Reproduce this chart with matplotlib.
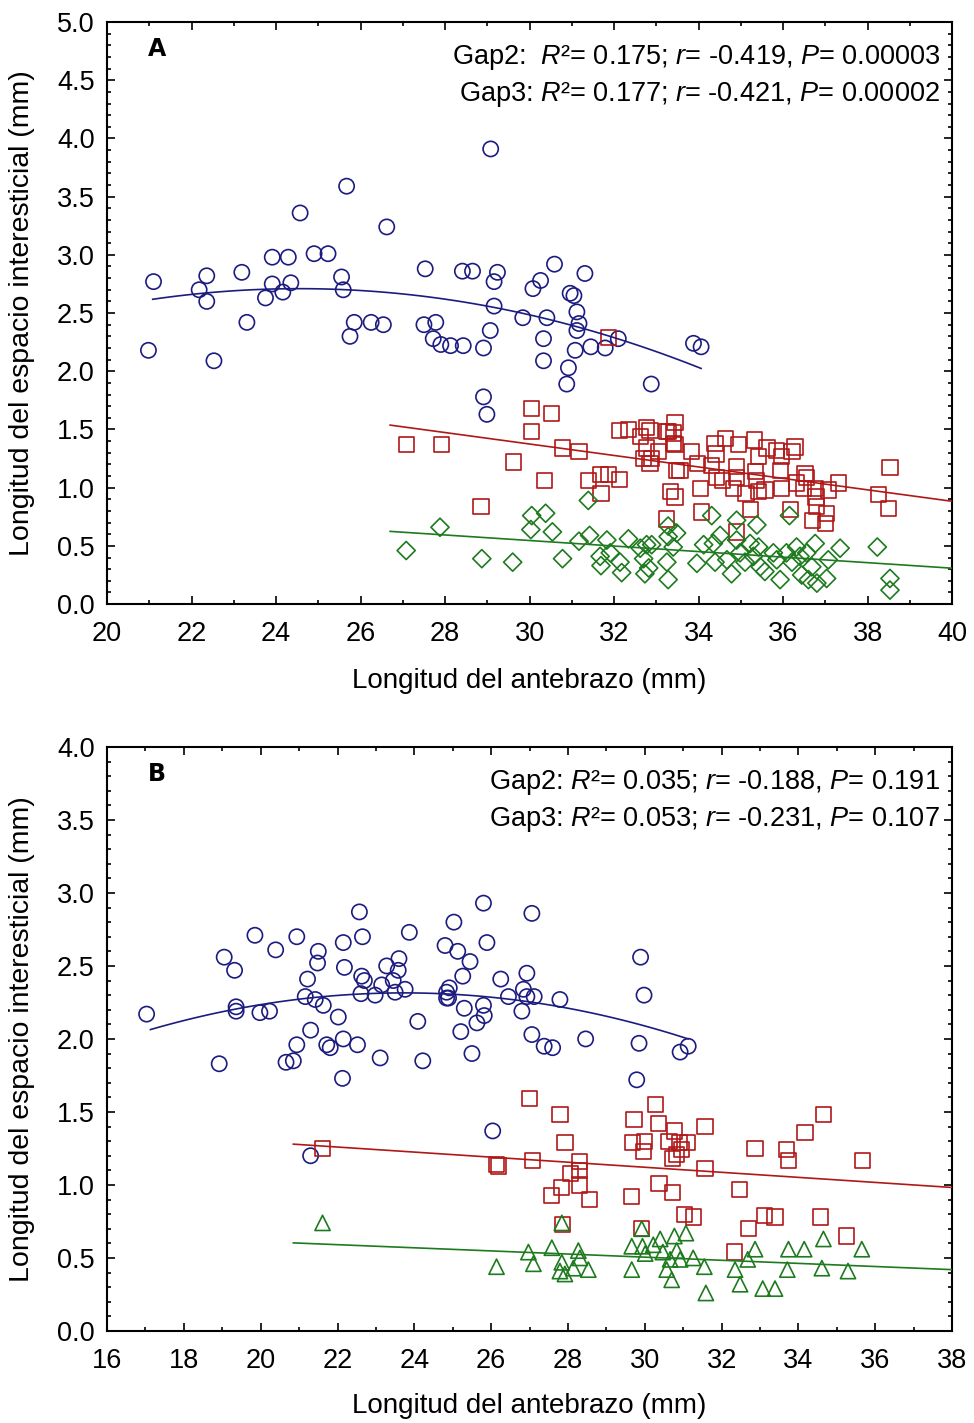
# -*- coding: utf-8 -*-
"""
Longitud del espacio interesticial vs. longitud del antebrazo.
Panel A / Panel B, Gap1 (circulos), Gap2 (cuadrados), Gap3 (rombos / triangulos).
"""
import numpy as np
import matplotlib
matplotlib.use('Agg')
import matplotlib.pyplot as plt
from matplotlib.ticker import MultipleLocator, FormatStrFormatter

FONT = ['Liberation Sans', 'DejaVu Sans']
plt.rcParams['font.family'] = FONT
plt.rcParams['mathtext.fontset'] = 'custom'
plt.rcParams['mathtext.rm'] = 'Liberation Sans'
plt.rcParams['mathtext.it'] = 'Liberation Sans:italic'

# ---------------- panel A ----------------
A_GAP1_X = [21.10, 20.98, 22.18, 22.36, 22.36, 22.53, 23.19, 23.31, 23.91, 24.29,
            23.91, 23.75, 24.16, 24.35, 24.57, 24.90, 25.23, 25.67, 25.55, 25.59,
            25.85, 25.75, 26.25, 26.54, 26.62, 27.53, 27.50, 27.78, 27.72, 27.90,
            28.13, 28.43, 28.41, 28.65, 28.91, 29.08, 29.24, 29.16, 29.16, 29.07,
            28.91, 28.99, 29.84, 30.08, 30.26, 30.41, 30.33, 30.33, 30.59, 31.31,
            30.96, 31.05, 31.12, 31.17, 31.12, 31.08, 31.45, 31.79, 32.10, 30.92,
            30.88, 32.88, 33.88, 34.06]
A_GAP1_Y = [2.77, 2.18, 2.70, 2.82, 2.60, 2.09, 2.85, 2.42, 2.98, 2.98,
            2.75, 2.63, 2.68, 2.76, 3.36, 3.01, 3.01, 3.59, 2.81, 2.70,
            2.42, 2.30, 2.42, 2.40, 3.24, 2.88, 2.40, 2.42, 2.28, 2.23,
            2.22, 2.22, 2.86, 2.86, 2.20, 3.91, 2.85, 2.77, 2.56, 2.35,
            1.78, 1.63, 2.46, 2.71, 2.78, 2.46, 2.28, 2.09, 2.92, 2.84,
            2.67, 2.65, 2.51, 2.41, 2.35, 2.18, 2.21, 2.20, 2.28, 2.03,
            1.89, 1.89, 2.24, 2.21]

A_GAP2_X = [27.09, 27.91, 30.04, 30.52, 30.04, 29.62, 30.36, 28.85, 30.78, 31.17,
            31.39, 31.67, 31.87, 32.12, 31.69, 32.13, 32.34, 32.62, 32.77, 32.85,
            32.77, 32.70, 32.89, 32.85, 33.05, 33.25, 33.44, 33.40, 33.44, 33.48,
            33.33, 33.44, 33.25, 33.29, 33.41, 33.56, 33.84, 33.98, 34.04, 34.07,
            34.39, 34.63, 34.41, 34.31, 34.43, 34.57, 34.82, 34.94, 34.90, 34.90,
            35.12, 35.22, 35.32, 35.42, 35.34, 35.38, 35.42, 35.57, 35.62, 35.85,
            35.97, 35.93, 35.97, 36.17, 36.21, 36.28, 36.32, 36.52, 36.56, 36.48,
            36.76, 36.78, 36.80, 36.70, 37.03, 37.01, 37.07, 37.31, 38.25, 38.49,
            38.53, 34.90, 31.87]
A_GAP2_Y = [1.37, 1.37, 1.68, 1.64, 1.48, 1.22, 1.06, 0.84, 1.34, 1.31,
            1.06, 1.11, 1.11, 1.07, 0.95, 1.49, 1.50, 1.44, 1.52, 1.49,
            1.34, 1.25, 1.25, 1.21, 1.31, 1.48, 1.56, 1.47, 1.37, 1.15,
            0.97, 0.92, 0.73, 1.48, 1.38, 1.15, 1.31, 1.21, 0.99, 0.79,
            1.38, 1.42, 1.29, 1.19, 1.09, 1.06, 0.99, 1.37, 1.18, 1.09,
            0.95, 0.81, 1.41, 1.27, 1.14, 1.06, 0.97, 0.98, 1.34, 1.32,
            1.27, 1.15, 0.99, 0.81, 1.31, 1.35, 1.04, 1.12, 1.09, 0.99,
            0.99, 0.92, 0.84, 0.72, 0.78, 0.69, 0.98, 1.04, 0.94, 0.82,
            1.17, 0.62, 2.29]

A_GAP3_X = [27.08, 27.88, 28.87, 29.60, 30.05, 30.38, 30.03, 30.54, 30.78, 31.39,
            31.17, 31.42, 31.83, 31.91, 31.67, 31.69, 32.14, 32.18, 32.34, 32.62,
            32.77, 32.89, 32.70, 32.82, 32.73, 33.28, 33.28, 33.40, 33.25, 33.28,
            33.48, 34.31, 34.90, 35.38, 36.15, 33.96, 34.12, 34.35, 34.51, 34.39,
            34.67, 34.78, 34.90, 34.98, 35.10, 35.22, 35.30, 35.42, 35.46, 35.57,
            35.77, 35.85, 35.93, 36.08, 36.21, 36.32, 36.40, 36.56, 36.44, 36.60,
            36.76, 36.68, 36.80, 37.03, 37.07, 37.35, 38.23, 38.53, 38.53]
A_GAP3_Y = [0.46, 0.66, 0.39, 0.36, 0.76, 0.78, 0.64, 0.62, 0.39, 0.89,
            0.54, 0.59, 0.55, 0.44, 0.41, 0.33, 0.36, 0.27, 0.56, 0.48,
            0.51, 0.51, 0.39, 0.31, 0.26, 0.67, 0.58, 0.49, 0.36, 0.21,
            0.61, 0.76, 0.72, 0.68, 0.76, 0.35, 0.51, 0.52, 0.59, 0.36,
            0.38, 0.26, 0.55, 0.44, 0.36, 0.52, 0.41, 0.49, 0.32, 0.28,
            0.44, 0.38, 0.21, 0.44, 0.36, 0.49, 0.41, 0.44, 0.25, 0.21,
            0.52, 0.32, 0.18, 0.22, 0.38, 0.48, 0.49, 0.22, 0.12]

# ---------------- panel B ----------------
B_GAP1_X = [17.03, 18.92, 19.05, 19.32, 19.36, 19.36, 19.85, 20.39, 19.98, 20.23,
            20.94, 21.22, 21.50, 21.48, 21.16, 21.42, 21.63, 21.30, 20.94, 20.66,
            20.85, 21.72, 21.81, 22.02, 22.15, 22.52, 22.13, 22.15, 22.18, 22.57,
            22.65, 22.63, 22.70, 22.61, 22.98, 23.11, 23.15, 23.28, 23.45, 23.50,
            23.60, 23.58, 23.76, 23.87, 24.09, 24.22, 24.80, 24.84, 24.84, 25.80,
            25.03, 25.13, 25.45, 25.89, 25.26, 24.91, 24.89, 25.30, 25.80, 25.82,
            25.63, 25.21, 25.50, 27.06, 26.25, 26.45, 26.93, 26.84, 26.93, 27.12,
            26.80, 27.79, 27.06, 27.38, 27.60, 28.46, 29.89, 29.98, 29.85, 29.79,
            31.13, 30.92, 26.04, 21.30]
B_GAP1_Y = [2.17, 1.83, 2.56, 2.47, 2.22, 2.19, 2.71, 2.61, 2.18, 2.19,
            2.70, 2.41, 2.60, 2.52, 2.29, 2.27, 2.23, 2.06, 1.96, 1.84,
            1.85, 1.96, 1.94, 2.15, 2.00, 1.96, 1.73, 2.66, 2.49, 2.87,
            2.70, 2.43, 2.40, 2.31, 2.30, 1.87, 2.37, 2.50, 2.40, 2.32,
            2.55, 2.47, 2.34, 2.73, 2.12, 1.85, 2.64, 2.32, 2.28, 2.93,
            2.80, 2.60, 2.53, 2.66, 2.43, 2.35, 2.28, 2.21, 2.23, 2.16,
            2.11, 2.05, 1.90, 2.86, 2.41, 2.29, 2.45, 2.34, 2.29, 2.29,
            2.19, 2.27, 2.03, 1.95, 1.94, 2.00, 2.56, 2.30, 1.97, 1.72,
            1.95, 1.91, 1.37, 1.20]

B_GAP2_X = [21.61, 26.14, 27.00, 27.79, 27.92, 26.19, 27.08, 28.30, 28.31, 28.06,
            28.30, 27.84, 27.58, 28.57, 29.66, 29.72, 29.68, 30.27, 30.35, 29.99,
            29.96, 30.77, 30.63, 30.90, 31.11, 30.83, 30.96, 30.72, 31.57, 31.57,
            30.37, 30.73, 31.03, 31.26, 32.47, 32.87, 33.68, 33.74, 34.17, 34.65,
            35.66, 32.70, 33.11, 33.39, 34.58, 35.26, 32.33, 29.92, 27.86]
B_GAP2_Y = [1.25, 1.14, 1.59, 1.48, 1.29, 1.13, 1.17, 1.16, 1.10, 1.08,
            1.00, 0.98, 0.93, 0.90, 0.92, 1.45, 1.29, 1.55, 1.42, 1.30,
            1.23, 1.37, 1.30, 1.29, 1.29, 1.21, 1.24, 1.18, 1.40, 1.11,
            1.01, 0.95, 0.80, 0.78, 0.97, 1.25, 1.24, 1.17, 1.36, 1.48,
            1.17, 0.70, 0.79, 0.78, 0.78, 0.65, 0.54, 0.70, 0.73]

B_GAP3_X = [21.61, 26.14, 26.97, 27.10, 27.58, 27.84, 27.84, 27.92, 27.79, 28.27,
            28.31, 28.14, 28.53, 29.66, 29.66, 29.92, 29.94, 30.01, 30.22, 30.40,
            30.47, 30.57, 30.70, 30.77, 30.83, 31.07, 30.92, 30.66, 31.26, 31.55,
            31.59, 32.35, 32.48, 32.68, 32.87, 33.07, 33.39, 33.71, 33.74, 34.15,
            34.65, 34.61, 35.29, 35.65]
B_GAP3_Y = [0.74, 0.44, 0.54, 0.46, 0.57, 0.74, 0.47, 0.39, 0.41, 0.55,
            0.50, 0.43, 0.42, 0.58, 0.42, 0.70, 0.58, 0.53, 0.59, 0.63,
            0.54, 0.42, 0.35, 0.65, 0.55, 0.67, 0.49, 0.49, 0.50, 0.44,
            0.26, 0.42, 0.32, 0.49, 0.56, 0.29, 0.29, 0.42, 0.56, 0.56,
            0.63, 0.43, 0.41, 0.56]

STATS_A = [r'Gap2:  $R$²= 0.175; $r$= -0.419, $P$= 0.00003',
           r'Gap3: $R$²= 0.177; $r$= -0.421, $P$= 0.00002']
STATS_B = [r'Gap2: $R$²= 0.035; $r$= -0.188, $P$= 0.191',
           r'Gap3: $R$²= 0.053; $r$= -0.231, $P$= 0.107']

BLUE = '#1c1c80'
RED = '#b01818'
GREEN = '#1e7a1e'
MS = 120


def fit_line(ax, x, y, deg, x0, x1, color):
    c = np.polyfit(x, y, deg)
    xs = np.linspace(x0, x1, 100)
    ax.plot(xs, np.polyval(c, xs), color=color, lw=1.2, zorder=3)


def style(ax, xlim, ylim, ymajor, xlab_y):
    ax.set_xlim(*xlim)
    ax.set_ylim(*ylim)
    ax.xaxis.set_major_locator(MultipleLocator(2))
    ax.xaxis.set_minor_locator(MultipleLocator(1))
    ax.yaxis.set_major_locator(MultipleLocator(ymajor))
    ax.yaxis.set_minor_locator(MultipleLocator(0.1))
    ax.yaxis.set_major_formatter(FormatStrFormatter('%.1f'))
    ax.tick_params(which='both', direction='in', top=True, right=True,
                   labelsize=19.5, width=1.2)
    ax.tick_params(which='major', length=6)
    ax.tick_params(which='minor', length=3)
    ax.tick_params(axis='x', pad=12)
    ax.tick_params(axis='y', pad=9)
    for s in ax.spines.values():
        s.set_linewidth(1.5)
    ax.set_xlabel('Longitud del antebrazo (mm)', fontsize=20)
    ax.set_ylabel('Longitud del espacio interesticial (mm)', fontsize=20.5)
    ax.xaxis.set_label_coords(0.5, xlab_y)
    ax.yaxis.set_label_coords(-0.085, 0.5)


def panel(ax, g1x, g1y, g2x, g2y, g3x, g3y, g3marker, g3size, stats, letter,
          xlim, ylim, ymajor, lin_start, xlab_y):
    ax.scatter(g1x, g1y, s=MS, marker='o', facecolors='none', edgecolors=BLUE,
               linewidths=1.2, zorder=2)
    ax.scatter(g2x, g2y, s=MS, marker='s', facecolors='none', edgecolors=RED,
               linewidths=1.2, zorder=2)
    ax.scatter(g3x, g3y, s=g3size, marker=g3marker, facecolors='none',
               edgecolors=GREEN, linewidths=1.2, zorder=2)
    fit_line(ax, g1x, g1y, 2, min(g1x) + 0.1, max(g1x), BLUE)
    fit_line(ax, g2x, g2y, 1, lin_start, xlim[1], RED)
    fit_line(ax, g3x, g3y, 1, lin_start, xlim[1], GREEN)
    ax.text(0.059, 0.953, letter, transform=ax.transAxes, fontsize=17,
            fontweight='bold', family=['DejaVu Sans'], ha='center', va='center')
    ax.text(0.986, 0.940, stats[0], transform=ax.transAxes, fontsize=19.5,
            ha='right', va='center')
    ax.text(0.986, 0.876, stats[1], transform=ax.transAxes, fontsize=19.5,
            ha='right', va='center')
    style(ax, xlim, ylim, ymajor, xlab_y)


fig = plt.figure(figsize=(9.74, 14.23), dpi=100)
axA = fig.add_axes([0.1099, 0.5755, 0.8676, 0.409])
axB = fig.add_axes([0.1099, 0.0647, 0.8676, 0.4104])

panel(axA, A_GAP1_X, A_GAP1_Y, A_GAP2_X, A_GAP2_Y, A_GAP3_X, A_GAP3_Y, 'D', 85,
      STATS_A, 'A', (20, 40), (0, 5), 0.5, 26.7, -0.11)
panel(axB, B_GAP1_X, B_GAP1_Y, B_GAP2_X, B_GAP2_Y, B_GAP3_X, B_GAP3_Y, '^', 120,
      STATS_B, 'B', (16, 38), (0, 4), 0.5, 20.85, -0.106)

fig.savefig('out.png', dpi=100)
